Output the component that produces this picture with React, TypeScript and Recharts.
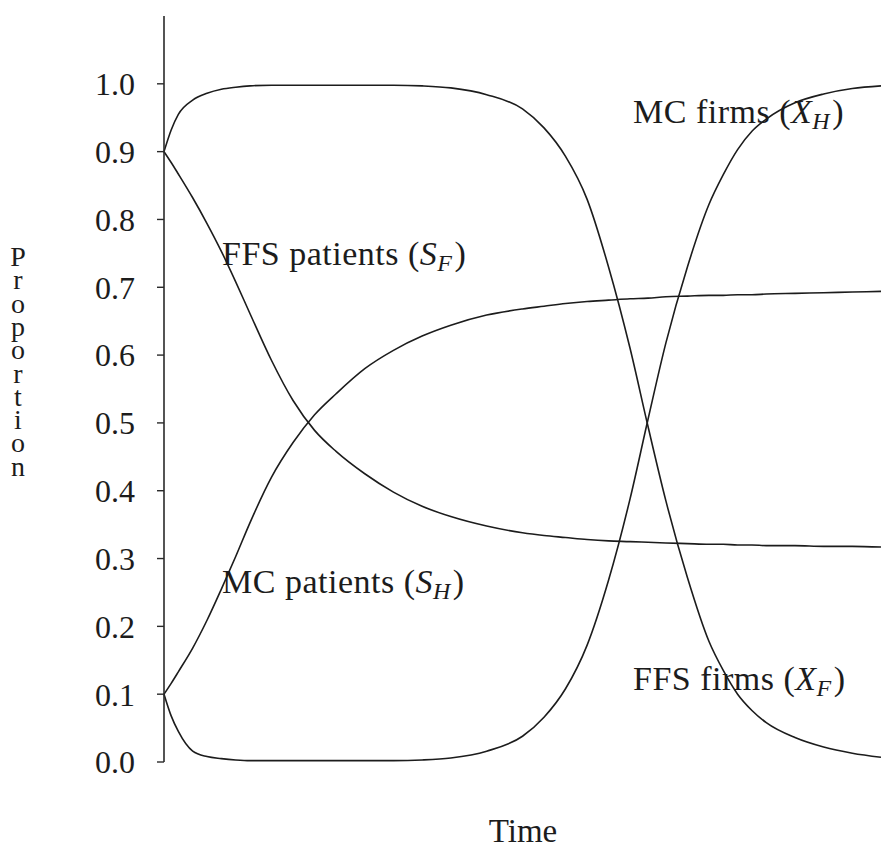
import React from 'react';
import { LineChart, Line, XAxis, YAxis, Customized } from 'recharts';

// time axis has no labels in the original, so it's just 0..100
const time = [0, 1, 2, 4, 6, 8, 10, 12, 15, 18, 21, 24, 28, 32, 36, 40, 45, 50, 53, 56, 59, 62, 65, 67.5, 70, 73, 76, 78, 80, 82, 84, 88, 92, 96, 100];

const ffsPatients = [0.9, 0.884, 0.867, 0.832, 0.794, 0.753, 0.708, 0.661, 0.592, 0.533, 0.489, 0.458, 0.425, 0.398, 0.377, 0.362, 0.348, 0.338, 0.334, 0.331, 0.328, 0.326, 0.325, 0.324, 0.323, 0.322, 0.321, 0.321, 0.32, 0.32, 0.319, 0.319, 0.318, 0.318, 0.317];
const mcPatients = [0.1, 0.116, 0.133, 0.168, 0.209, 0.255, 0.303, 0.353, 0.42, 0.471, 0.512, 0.543, 0.58, 0.607, 0.628, 0.644, 0.659, 0.668, 0.672, 0.676, 0.679, 0.681, 0.683, 0.684, 0.686, 0.687, 0.688, 0.688, 0.689, 0.689, 0.69, 0.691, 0.692, 0.693, 0.694];
const ffsFirms = [0.9, 0.932, 0.955, 0.976, 0.986, 0.992, 0.995, 0.997, 0.998, 0.998, 0.998, 0.998, 0.998, 0.998, 0.997, 0.994, 0.984, 0.963, 0.935, 0.893, 0.83, 0.73, 0.61, 0.495, 0.385, 0.272, 0.178, 0.135, 0.1, 0.076, 0.058, 0.036, 0.022, 0.013, 0.007];
const mcFirms = [0.1, 0.068, 0.045, 0.016, 0.008, 0.005, 0.003, 0.002, 0.002, 0.002, 0.002, 0.002, 0.002, 0.002, 0.003, 0.006, 0.016, 0.038, 0.066, 0.108, 0.172, 0.268, 0.388, 0.505, 0.618, 0.73, 0.822, 0.866, 0.903, 0.93, 0.948, 0.972, 0.985, 0.993, 0.997];

const yTicks = [0, 0.1, 0.2, 0.3, 0.4, 0.5, 0.6, 0.7, 0.8, 0.9, 1.0];
const yLabel = 'Proportion';

const data = time.map((t, i) => ({
  t,
  sF: ffsPatients[i],
  sH: mcPatients[i],
  xF: ffsFirms[i],
  xH: mcFirms[i],
}));

const FONT = '"Liberation Serif", "Times New Roman", serif';
const INK = '#1c1c1c';

const CurveLabel = ({ x, y, text, sym, sub }: { x: number; y: number; text: string; sym: string; sub: string }) => (
  <text x={x} y={y} fontSize={34} letterSpacing={0.5} fontFamily={FONT} fill={INK}>
    {text} (<tspan fontStyle="italic">{sym}</tspan>
    <tspan fontStyle="italic" fontSize={24} dy={6}>{sub}</tspan>
    <tspan dy={-6} dx={2}>)</tspan>
  </text>
);

const Annotations = () => (
  <g>
    <CurveLabel x={222} y={265} text="FFS patients" sym="S" sub="F" />
    <CurveLabel x={222} y={593} text="MC patients" sym="S" sub="H" />
    <CurveLabel x={633} y={123} text="MC firms" sym="X" sub="H" />
    <CurveLabel x={633} y={690} text="FFS firms" sym="X" sub="F" />
    {/* stacked y label */}
    {yLabel.split('').map((ch, i) => (
      <text key={i} x={18} y={266 + i * 23.3} textAnchor="middle" fontSize={28} fontFamily={FONT} fill={INK}>
        {ch}
      </text>
    ))}
    <text x={523} y={842} textAnchor="middle" fontSize={33} fontFamily={FONT} fill={INK}>
      Time
    </text>
  </g>
);

export default function App() {
  return (
    <div style={{ position: 'fixed', left: 0, top: 0, width: 881, height: 846, overflow: 'hidden', background: '#fff' }}>
      <LineChart width={881} height={846} data={data} margin={{ top: 16, right: 0, left: 104, bottom: 84 }}>
        <XAxis
          dataKey="t"
          type="number"
          domain={[0, 100]}
          tick={false}
          tickLine={false}
          height={0}
          axisLine={{ stroke: '#2a2a2a', strokeWidth: 1.6 }}
        />
        <YAxis
          type="number"
          domain={[0, 1.1]}
          ticks={yTicks}
          tickFormatter={(v: number) => v.toFixed(1)}
          width={60}
          tickSize={7}
          tickMargin={22}
          axisLine={{ stroke: '#2a2a2a', strokeWidth: 1.6 }}
          tickLine={{ stroke: '#2a2a2a', strokeWidth: 1.4 }}
          tick={{ fill: INK, fontSize: 32, fontFamily: FONT }}
        />
        <Line type="monotone" dataKey="sF" stroke={INK} strokeWidth={1.6} dot={false} isAnimationActive={false} />
        <Line type="monotone" dataKey="sH" stroke={INK} strokeWidth={1.6} dot={false} isAnimationActive={false} />
        <Line type="monotone" dataKey="xF" stroke={INK} strokeWidth={1.6} dot={false} isAnimationActive={false} />
        <Line type="monotone" dataKey="xH" stroke={INK} strokeWidth={1.6} dot={false} isAnimationActive={false} />
        <Customized component={Annotations} />
      </LineChart>
    </div>
  );
}
